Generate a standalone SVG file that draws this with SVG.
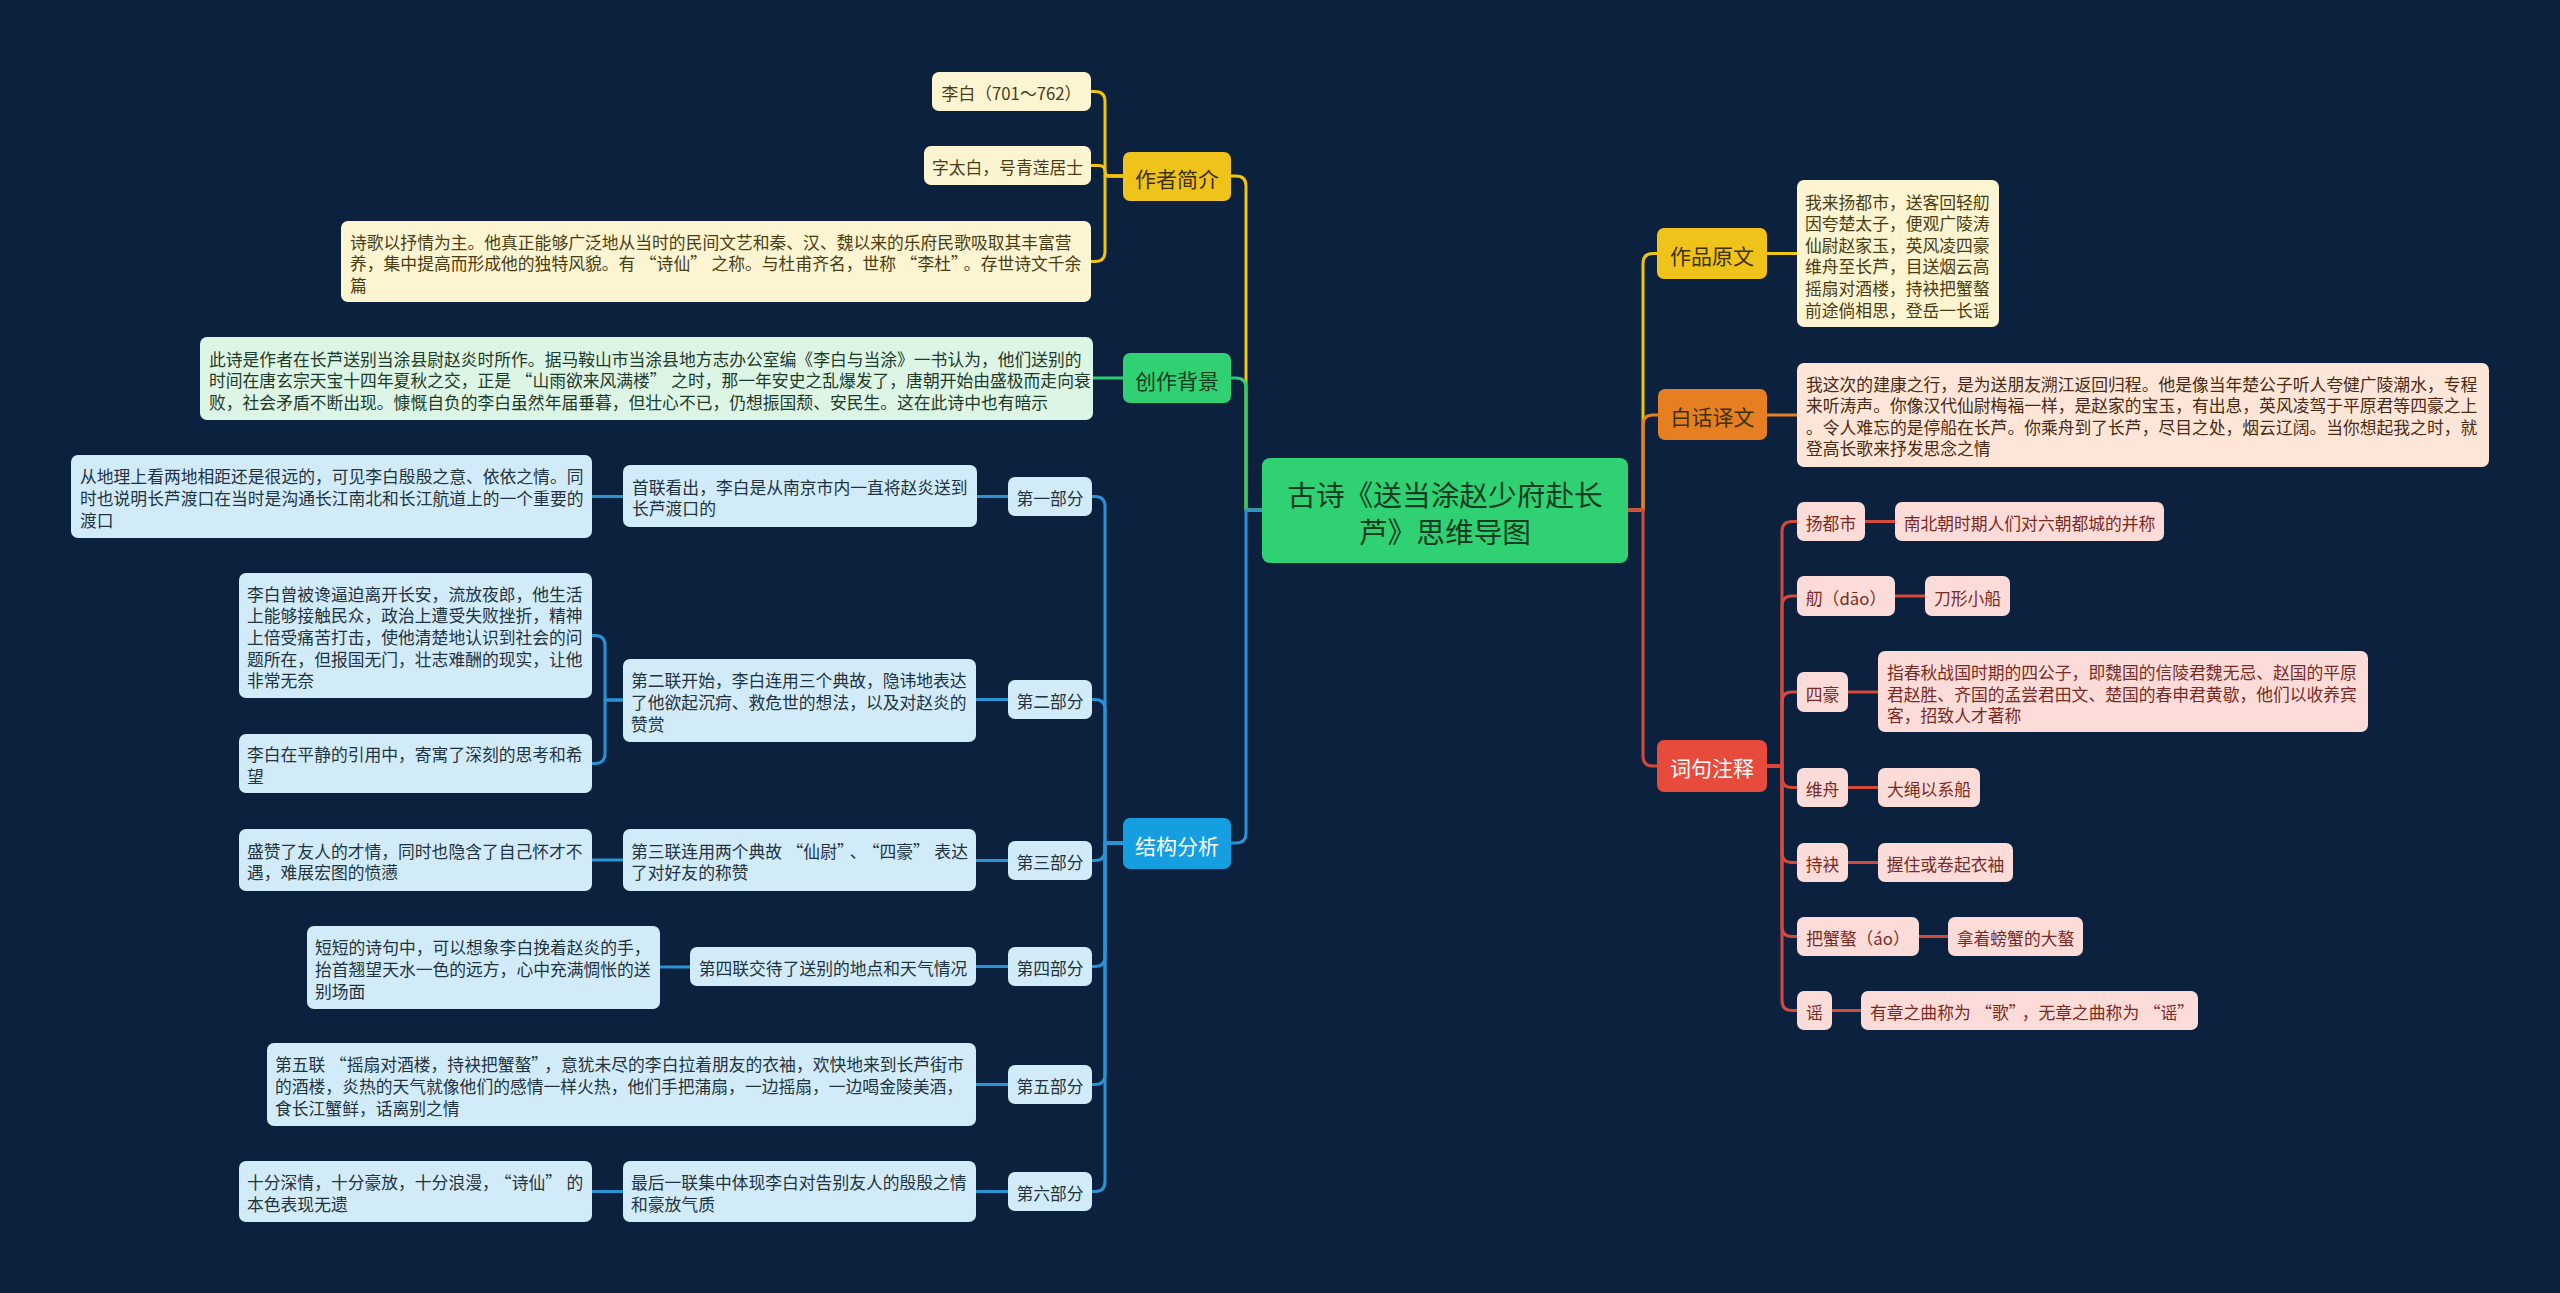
<svg xmlns="http://www.w3.org/2000/svg" width="2560" height="1293" viewBox="0 0 2560 1293">
<style>
.ln{fill:none;stroke-width:3;stroke-linecap:round;stroke-linejoin:round}
.y{stroke:#f1c40f}.g{stroke:#2ecc71}.b{stroke:#2a93d6}.o{stroke:#e67e22}.r{stroke:#d34a3c}
.t{font-family:"Noto Sans CJK SC","Microsoft YaHei",sans-serif;font-size:16.8px;dominant-baseline:central}
.m{font-size:21px;text-anchor:middle}
.c{text-anchor:middle}
.fy{fill:#f0c31a}.fg{fill:#2fd173}.fb{fill:#159fe0}.fo{fill:#e67e22}.fr{fill:#e64b3b}
.cream{fill:#fdf4d2}.mint{fill:#dcf5e5}.lb{fill:#d2ebf8}.peach{fill:#fde6d7}.pink{fill:#fbdcd8}
.tdy{fill:#3d3004}.tdg{fill:#123d20}.tw{fill:#ffffff}.tcr{fill:#4a3d12}.tmn{fill:#1e3a2a}.tlb{fill:#1f3340}.tpe{fill:#4a2a14}.tpk{fill:#7a2a24}
</style>
<rect x="0" y="0" width="2560" height="1293" fill="#0b213e"/>

<g id="connectors">
  <path class="ln y" d="M1262 510 H1246 V186 Q1246 176 1236 176 H1231"/>
  <path class="ln g" d="M1262 510 H1246 V388 Q1246 378 1236 378 H1231"/>
  <path class="ln b" d="M1262 510 H1246 V833 Q1246 843 1236 843 H1231"/>
  <path class="ln y" d="M1628 510 H1643 V263.5 Q1643 253.5 1653 253.5 H1657"/>
  <path class="ln o" d="M1628 510 H1643 V425 Q1643 415 1653 415 H1658"/>
  <path class="ln r" d="M1628 510 H1643 V756 Q1643 766 1653 766 H1657"/>

  <path class="ln y" d="M1123 176 H1105 V101.5 Q1105 91.5 1095 91.5 H1091"/>
  <path class="ln y" d="M1123 176 H1110 Q1105 176 1105 171 Q1105 165.5 1099 165.5 H1091"/>
  <path class="ln y" d="M1123 176 H1105 V251.5 Q1105 261.5 1095 261.5 H1091"/>
  <path class="ln g" d="M1123 378 H1093"/>

  <path class="ln b" d="M1123 843 H1105 V506.5 Q1105 496.5 1095 496.5 H1092"/>
  <path class="ln b" d="M1123 843 H1105 V709.5 Q1105 699.5 1095 699.5 H1092"/>
  <path class="ln b" d="M1123 843 H1105 V850.5 Q1105 860.5 1095 860.5 H1092"/>
  <path class="ln b" d="M1123 843 H1105 V956.5 Q1105 966.5 1095 966.5 H1092"/>
  <path class="ln b" d="M1123 843 H1105 V1074.5 Q1105 1084.5 1095 1084.5 H1092"/>
  <path class="ln b" d="M1123 843 H1105 V1181.5 Q1105 1191.5 1095 1191.5 H1092"/>

  <path class="ln b" d="M1008 496.5 H977"/>
  <path class="ln b" d="M623 496.5 H592"/>
  <path class="ln b" d="M1008 699.5 H976"/>
  <path class="ln b" d="M623 700 H605 V645.5 Q605 635.5 595 635.5 H592"/>
  <path class="ln b" d="M623 700 H605 V753.5 Q605 763.5 595 763.5 H592"/>
  <path class="ln b" d="M1008 860.5 H976"/>
  <path class="ln b" d="M623 860 H592"/>
  <path class="ln b" d="M1008 966.5 H976"/>
  <path class="ln b" d="M690 967 H660"/>
  <path class="ln b" d="M1008 1084.5 H976"/>
  <path class="ln b" d="M1008 1191.5 H976"/>
  <path class="ln b" d="M623 1191.5 H592"/>

  <path class="ln y" d="M1767 253.5 H1797"/>
  <path class="ln o" d="M1767 415 H1797"/>

  <path class="ln r" d="M1767 766 H1782 V531.5 Q1782 521.5 1792 521.5 H1797"/>
  <path class="ln r" d="M1767 766 H1782 V606 Q1782 596 1792 596 H1797"/>
  <path class="ln r" d="M1767 766 H1782 V702 Q1782 692 1792 692 H1797"/>
  <path class="ln r" d="M1767 766 H1782 V777.5 Q1782 787.5 1792 787.5 H1797"/>
  <path class="ln r" d="M1767 766 H1782 V852.5 Q1782 862.5 1792 862.5 H1797"/>
  <path class="ln r" d="M1767 766 H1782 V926.5 Q1782 936.5 1792 936.5 H1797"/>
  <path class="ln r" d="M1767 766 H1782 V1000.5 Q1782 1010.5 1792 1010.5 H1797"/>
  <path class="ln r" d="M1865 521.5 H1895"/>
  <path class="ln r" d="M1895 596 H1925"/>
  <path class="ln r" d="M1848 692 H1878"/>
  <path class="ln r" d="M1848 787.5 H1878"/>
  <path class="ln r" d="M1848 862.5 H1878"/>
  <path class="ln r" d="M1919 936.5 H1948"/>
  <path class="ln r" d="M1832 1010.5 H1861"/>
</g>

<g id="center">
  <rect x="1262" y="458" width="366" height="105" rx="8" class="fg"/>
  <text class="t c tdg" style="font-size:28.7px" x="1445" y="493">古诗《送当涂赵少府赴长</text>
  <text class="t c tdg" style="font-size:28.7px" x="1445" y="530">芦》思维导图</text>
</g>

<g id="author">
  <rect x="1123" y="152" width="108" height="49" rx="7" class="fy"/>
  <text class="t m tdy" x="1177" y="177.5">作者简介</text>
</g>
<g id="author-1">
  <rect x="932" y="72" width="159" height="39" rx="7" class="cream"/>
  <text class="t c tcr" x="1011.5" y="93">李白（701～762）</text>
</g>
<g id="author-2">
  <rect x="924" y="146" width="167" height="39" rx="7" class="cream"/>
  <text class="t c tcr" x="1007.5" y="167">字太白，号青莲居士</text>
</g>
<g id="author-3">
  <rect x="341" y="221" width="750" height="81" rx="7" class="cream"/>
  <text class="t tcr"><tspan x="350" y="241.5">诗歌以抒情为主。他真正能够广泛地从当时的民间文艺和秦、汉、魏以来的乐府民歌吸取其丰富营</tspan><tspan x="350" y="263">养，集中提高而形成他的独特风貌。有<tspan dx="4.5">“</tspan>诗仙”<tspan dx="4.5">之</tspan>称。与杜甫齐名，世称<tspan dx="4.5">“</tspan>李杜”<tspan dx="4.5">。</tspan>存世诗文千余</tspan><tspan x="350" y="284.6">篇</tspan></text>
</g>

<g id="background">
  <rect x="1123" y="353" width="108" height="50" rx="7" class="fg"/>
  <text class="t m tdg" x="1177" y="379.5">创作背景</text>
</g>
<g id="background-1">
  <rect x="200" y="337" width="893" height="83" rx="7" class="mint"/>
  <text class="t tmn"><tspan x="209" y="358.5">此诗是作者在长芦送别当涂县尉赵炎时所作。据马鞍山市当涂县地方志办公室编《李白与当涂》一书认为，他们送别的</tspan><tspan x="209" y="380">时间在唐玄宗天宝十四年夏秋之交，正是<tspan dx="4.5">“</tspan>山雨欲来风满楼”<tspan dx="4.5">之</tspan>时，那一年安史之乱爆发了，唐朝开始由盛极而走向衰</tspan><tspan x="209" y="401.6">败，社会矛盾不断出现。慷慨自负的李白虽然年届垂暮，但壮心不已，仍想振国颓、安民生。这在此诗中也有暗示</tspan></text>
</g>

<g id="structure">
  <rect x="1123" y="818" width="108" height="51" rx="7" class="fb"/>
  <text class="t m tw" x="1177" y="844.5">结构分析</text>
</g>

<g id="part1">
  <rect x="1008" y="477" width="84" height="39" rx="7" class="lb"/>
  <text class="t c tlb" x="1050" y="498">第一部分</text>
</g>
<g id="part1-a">
  <rect x="623" y="465" width="354" height="62" rx="7" class="lb"/>
  <text class="t tlb"><tspan x="632" y="486.7">首联看出，李白是从南京市内一直将赵炎送到</tspan><tspan x="632" y="508.3">长芦渡口的</tspan></text>
</g>
<g id="part1-b">
  <rect x="71" y="455" width="521" height="83" rx="7" class="lb"/>
  <text class="t tlb"><tspan x="80" y="476.4">从地理上看两地相距还是很远的，可见李白殷殷之意、依依之情。同</tspan><tspan x="80" y="498">时也说明长芦渡口在当时是沟通长江南北和长江航道上的一个重要的</tspan><tspan x="80" y="519.6">渡口</tspan></text>
</g>

<g id="part2">
  <rect x="1008" y="680" width="84" height="39" rx="7" class="lb"/>
  <text class="t c tlb" x="1050" y="701">第二部分</text>
</g>
<g id="part2-a">
  <rect x="623" y="659" width="353" height="83" rx="7" class="lb"/>
  <text class="t tlb"><tspan x="631" y="680.4">第二联开始，李白连用三个典故，隐讳地表达</tspan><tspan x="631" y="702">了他欲起沉疴、救危世的想法，以及对赵炎的</tspan><tspan x="631" y="723.6">赞赏</tspan></text>
</g>
<g id="part2-b">
  <rect x="239" y="573" width="353" height="125" rx="7" class="lb"/>
  <text class="t tlb"><tspan x="247" y="593.8">李白曾被谗逼迫离开长安，流放夜郎，他生活</tspan><tspan x="247" y="615.4">上能够接触民众，政治上遭受失败挫折，精神</tspan><tspan x="247" y="637">上倍受痛苦打击，使他清楚地认识到社会的问</tspan><tspan x="247" y="658.6">题所在，但报国无门，壮志难酬的现实，让他</tspan><tspan x="247" y="680.2">非常无奈</tspan></text>
</g>
<g id="part2-c">
  <rect x="239" y="734" width="353" height="59" rx="7" class="lb"/>
  <text class="t tlb"><tspan x="247" y="754.2">李白在平静的引用中，寄寓了深刻的思考和希</tspan><tspan x="247" y="775.8">望</tspan></text>
</g>

<g id="part3">
  <rect x="1008" y="841" width="84" height="39" rx="7" class="lb"/>
  <text class="t c tlb" x="1050" y="862">第三部分</text>
</g>
<g id="part3-a">
  <rect x="623" y="829" width="353" height="62" rx="7" class="lb"/>
  <text class="t tlb"><tspan x="631" y="850.7">第三联连用两个典故<tspan dx="4.5">“</tspan>仙尉”<tspan dx="4.5">、</tspan><tspan dx="4.5">“</tspan>四豪”<tspan dx="4.5">表</tspan>达</tspan><tspan x="631" y="872.3">了对好友的称赞</tspan></text>
</g>
<g id="part3-b">
  <rect x="239" y="829" width="353" height="62" rx="7" class="lb"/>
  <text class="t tlb"><tspan x="247" y="850.7">盛赞了友人的才情，同时也隐含了自己怀才不</tspan><tspan x="247" y="872.3">遇，难展宏图的愤懑</tspan></text>
</g>

<g id="part4">
  <rect x="1008" y="947" width="84" height="39" rx="7" class="lb"/>
  <text class="t c tlb" x="1050" y="968">第四部分</text>
</g>
<g id="part4-a">
  <rect x="690" y="947" width="286" height="39" rx="7" class="lb"/>
  <text class="t c tlb" x="833" y="968">第四联交待了送别的地点和天气情况</text>
</g>
<g id="part4-b">
  <rect x="307" y="926" width="353" height="83" rx="7" class="lb"/>
  <text class="t tlb"><tspan x="315" y="947.4">短短的诗句中，可以想象李白挽着赵炎的手，</tspan><tspan x="315" y="969">抬首翘望天水一色的远方，心中充满惆怅的送</tspan><tspan x="315" y="990.6">别场面</tspan></text>
</g>

<g id="part5">
  <rect x="1008" y="1065" width="84" height="39" rx="7" class="lb"/>
  <text class="t c tlb" x="1050" y="1086">第五部分</text>
</g>
<g id="part5-a">
  <rect x="267" y="1043" width="709" height="83" rx="7" class="lb"/>
  <text class="t tlb"><tspan x="275" y="1064.4">第五联<tspan dx="4.5">“</tspan>摇扇对酒楼，持袂把蟹螯”<tspan dx="4.5">，</tspan>意犹未尽的李白拉着朋友的衣袖，欢快地来到长芦街市</tspan><tspan x="275" y="1086">的酒楼，炎热的天气就像他们的感情一样火热，他们手把蒲扇，一边摇扇，一边喝金陵美酒，</tspan><tspan x="275" y="1107.6">食长江蟹鲜，话离别之情</tspan></text>
</g>

<g id="part6">
  <rect x="1008" y="1172" width="84" height="39" rx="7" class="lb"/>
  <text class="t c tlb" x="1050" y="1193">第六部分</text>
</g>
<g id="part6-a">
  <rect x="623" y="1161" width="353" height="61" rx="7" class="lb"/>
  <text class="t tlb"><tspan x="631" y="1182.2">最后一联集中体现李白对告别友人的殷殷之情</tspan><tspan x="631" y="1203.8">和豪放气质</tspan></text>
</g>
<g id="part6-b">
  <rect x="239" y="1161" width="353" height="61" rx="7" class="lb"/>
  <text class="t tlb"><tspan x="247" y="1182.2">十分深情，十分豪放，十分浪漫，<tspan dx="4.5">“</tspan>诗仙”<tspan dx="4.5">的</tspan></tspan><tspan x="247" y="1203.8">本色表现无遗</tspan></text>
</g>

<g id="original">
  <rect x="1657" y="228" width="110" height="51" rx="7" class="fy"/>
  <text class="t m tdy" x="1712" y="255">作品原文</text>
</g>
<g id="original-1">
  <rect x="1797" y="180" width="202" height="147" rx="7" class="cream"/>
  <text class="t tcr"><tspan x="1805" y="201.5">我来扬都市，送客回轻舠</tspan><tspan x="1805" y="223.1">因夸楚太子，便观广陵涛</tspan><tspan x="1805" y="244.7">仙尉赵家玉，英风凌四豪</tspan><tspan x="1805" y="266.3">维舟至长芦，目送烟云高</tspan><tspan x="1805" y="287.9">摇扇对酒楼，持袂把蟹螯</tspan><tspan x="1805" y="309.5">前途倘相思，登岳一长谣</tspan></text>
</g>

<g id="translation">
  <rect x="1658" y="389" width="109" height="51" rx="7" class="fo"/>
  <text class="t m tdy" x="1712.5" y="416">白话译文</text>
</g>
<g id="translation-1">
  <rect x="1797" y="363" width="692" height="104" rx="7" class="peach"/>
  <text class="t tpe"><tspan x="1806" y="383.6">我这次的建康之行，是为送朋友溯江返回归程。他是像当年楚公子听人夸健广陵潮水，专程</tspan><tspan x="1806" y="405.2">来听涛声。你像汉代仙尉梅福一样，是赵家的宝玉，有出息，英风凌驾于平原君等四豪之上</tspan><tspan x="1806" y="426.8">。令人难忘的是停船在长芦。你乘舟到了长芦，尽目之处，烟云辽阔。当你想起我之时，就</tspan><tspan x="1806" y="448.4">登高长歌来抒发思念之情</tspan></text>
</g>

<g id="notes">
  <rect x="1657" y="740" width="110" height="52" rx="7" class="fr"/>
  <text class="t m tw" x="1712" y="767">词句注释</text>
</g>
<g id="note-1">
  <rect x="1797" y="502" width="68" height="39" rx="7" class="pink"/>
  <text class="t c tpk" x="1831" y="523">扬都市</text>
</g>
<g id="note-1-a">
  <rect x="1895" y="502" width="269" height="39" rx="7" class="pink"/>
  <text class="t c tpk" x="2029.5" y="523">南北朝时期人们对六朝都城的并称</text>
</g>
<g id="note-2">
  <rect x="1797" y="576" width="98" height="40" rx="7" class="pink"/>
  <text class="t c tpk" x="1846" y="597.5">舠（dāo）</text>
</g>
<g id="note-2-a">
  <rect x="1925" y="576" width="85" height="40" rx="7" class="pink"/>
  <text class="t c tpk" x="1967.5" y="597.5">刀形小船</text>
</g>
<g id="note-3">
  <rect x="1797" y="672" width="51" height="40" rx="7" class="pink"/>
  <text class="t c tpk" x="1822.5" y="693.5">四豪</text>
</g>
<g id="note-3-a">
  <rect x="1878" y="651" width="490" height="81" rx="7" class="pink"/>
  <text class="t tpk"><tspan x="1887" y="671.9">指春秋战国时期的四公子，即魏国的信陵君魏无忌、赵国的平原</tspan><tspan x="1887" y="693.5">君赵胜、齐国的孟尝君田文、楚国的春申君黄歇，他们以收养宾</tspan><tspan x="1887" y="715.1">客，招致人才著称</tspan></text>
</g>
<g id="note-4">
  <rect x="1797" y="768" width="51" height="39" rx="7" class="pink"/>
  <text class="t c tpk" x="1822.5" y="789">维舟</text>
</g>
<g id="note-4-a">
  <rect x="1878" y="768" width="102" height="39" rx="7" class="pink"/>
  <text class="t c tpk" x="1929" y="789">大绳以系船</text>
</g>
<g id="note-5">
  <rect x="1797" y="843" width="51" height="39" rx="7" class="pink"/>
  <text class="t c tpk" x="1822.5" y="864">持袂</text>
</g>
<g id="note-5-a">
  <rect x="1878" y="843" width="135" height="39" rx="7" class="pink"/>
  <text class="t c tpk" x="1945.5" y="864">握住或卷起衣袖</text>
</g>
<g id="note-6">
  <rect x="1797" y="917" width="122" height="39" rx="7" class="pink"/>
  <text class="t c tpk" x="1858" y="938">把蟹螯（áo）</text>
</g>
<g id="note-6-a">
  <rect x="1948" y="917" width="135" height="39" rx="7" class="pink"/>
  <text class="t c tpk" x="2015.5" y="938">拿着螃蟹的大螯</text>
</g>
<g id="note-7">
  <rect x="1797" y="991" width="35" height="39" rx="7" class="pink"/>
  <text class="t c tpk" x="1814.5" y="1012">谣</text>
</g>
<g id="note-7-a">
  <rect x="1861" y="991" width="337" height="39" rx="7" class="pink"/>
  <text class="t tpk" x="1870" y="1012">有章之曲称为<tspan dx="4.5">“</tspan>歌”<tspan dx="4.5">，</tspan>无章之曲称为<tspan dx="4.5">“</tspan>谣”</text>
</g>
</svg>
